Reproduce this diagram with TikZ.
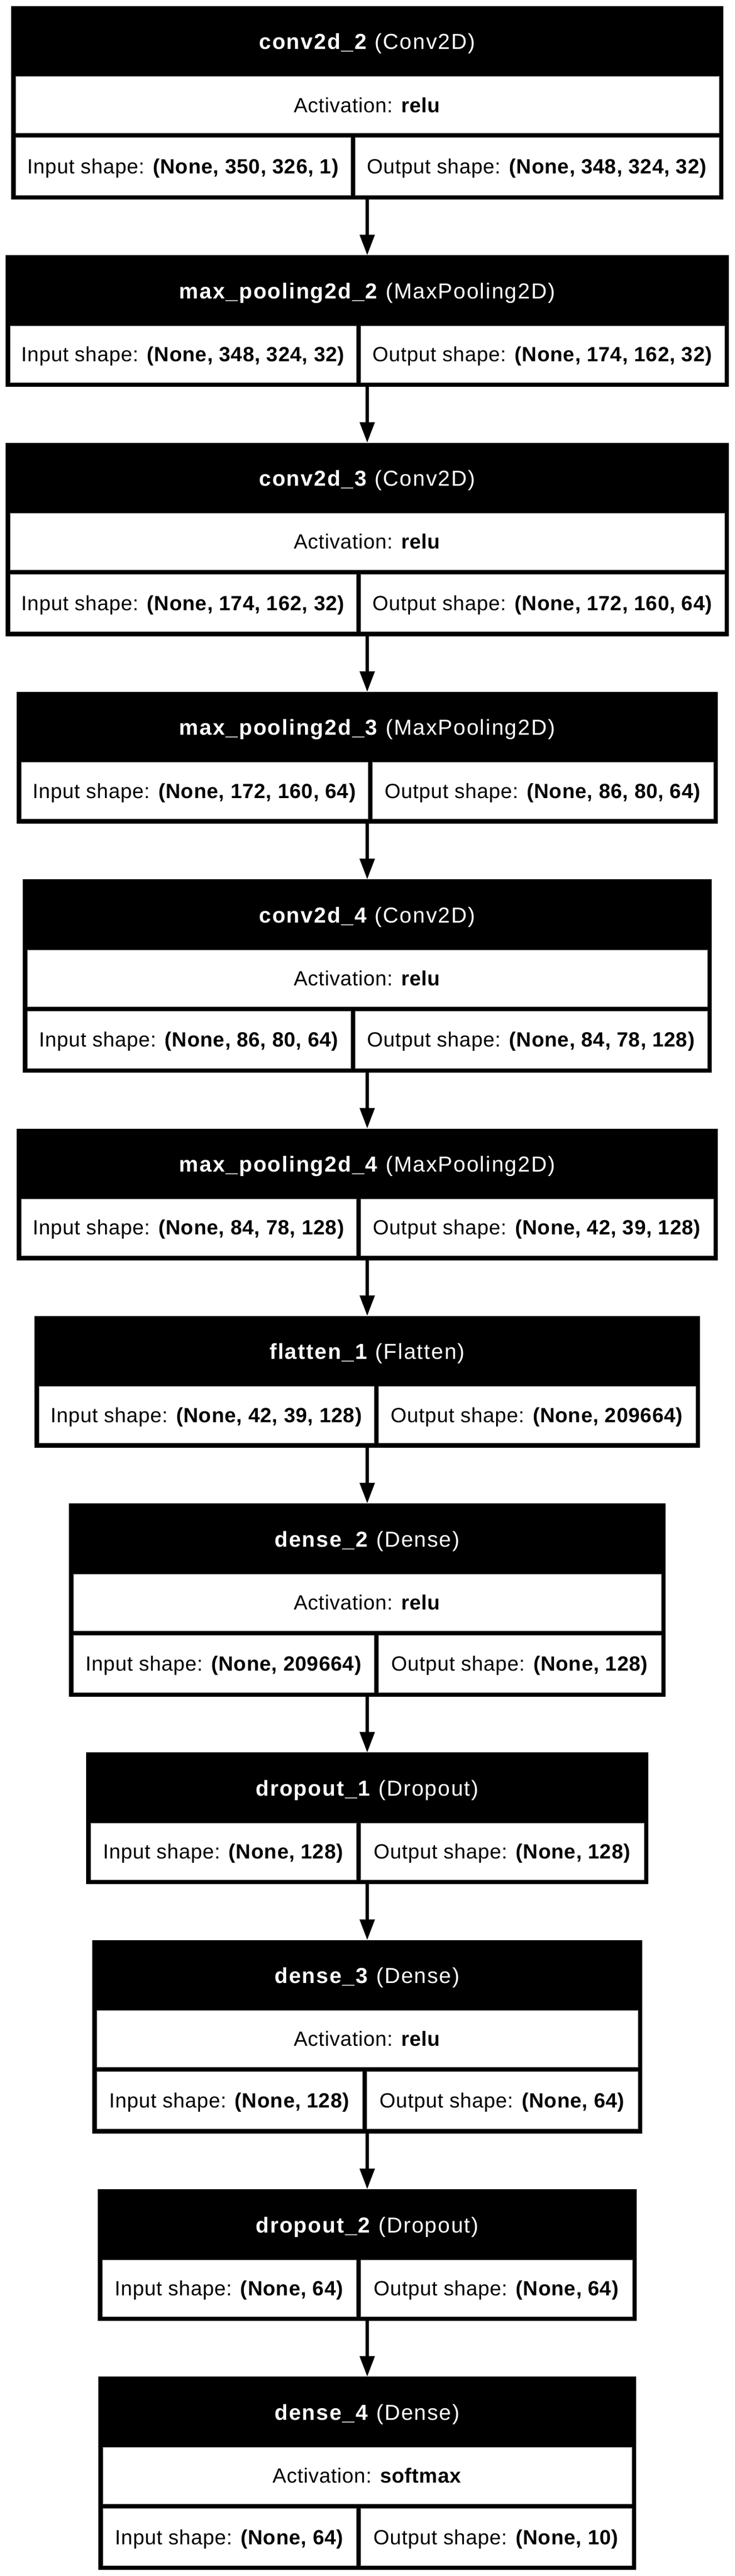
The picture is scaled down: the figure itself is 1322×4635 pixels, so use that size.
\documentclass[tikz,border=0pt]{standalone}
\usepackage{fontspec}
\setmainfont{Liberation Sans}
\newfontfamily\ttlfont{Liberation Sans}[LetterSpace=5]
\newfontfamily\cellfont{Liberation Sans}[LetterSpace=2]
\usetikzlibrary{arrows.meta}
\tikzset{
  boxfill/.style={fill=black, draw=none, inner sep=0pt, outer sep=0pt, anchor=north west},
  cell/.style={fill=white, draw=black!45, line width=0.5pt, inner sep=0pt, outer sep=0pt,
    anchor=north west, text height=13.2pt, text depth=0pt, font=\cellfont\fontsize{18.5pt}{21pt}\selectfont},
  ttl/.style={inner sep=0pt, outer sep=0pt, anchor=north west, text=white,
    text height=14pt, text depth=0pt, font=\ttlfont\fontsize{19.5pt}{23pt}\selectfont},
  arr/.style={line width=3pt, -{Triangle[length=18.5pt,width=13pt]}},
}
% box with activation row: name, top, left, split, name, class, activation, input, output
\newcommand{\abox}[9]{%
  \pgfmathsetmacro\bw{(1322-2*#3)*0.5}%
  \pgfmathsetmacro\cw{(1322-2*#3-16)*0.5}%
  \pgfmathsetmacro\iw{(#4-#3-8)*0.5}%
  \pgfmathsetmacro\ow{(1322-#3-8-#4-8)*0.5}%
  \node[boxfill, minimum width=\bw pt, minimum height=174pt] (#1) at (#3,#2) {};
  \node[ttl, minimum width=\cw pt, minimum height=59.5pt] (#1t) at (#3+8,#2+4.5) {\textbf{#5} #6};
  \node[cell, minimum width=\cw pt, minimum height=51pt] (#1a) at (#3+8,#2+127) {Activation: \textbf{#7}};
  \node[cell, minimum width=\iw pt, minimum height=51.5pt] (#1i) at (#3+8,#2+237) {Input shape: \textbf{#8}};
  \node[cell, minimum width=\ow pt, minimum height=51.5pt] (#1o) at (#4+8,#2+237) {Output shape: \textbf{#9}};
}
% box without activation row: name, top, left, split, name, class, input, output
\newcommand{\nbox}[8]{%
  \pgfmathsetmacro\bw{(1322-2*#3)*0.5}%
  \pgfmathsetmacro\cw{(1322-2*#3-16)*0.5}%
  \pgfmathsetmacro\iw{(#4-#3-8)*0.5}%
  \pgfmathsetmacro\ow{(1322-#3-8-#4-8)*0.5}%
  \node[boxfill, minimum width=\bw pt, minimum height=118.5pt] (#1) at (#3,#2) {};
  \node[ttl, minimum width=\cw pt, minimum height=59.5pt] (#1t) at (#3+8,#2+4.5) {\textbf{#5} #6};
  \node[cell, minimum width=\iw pt, minimum height=51pt] (#1i) at (#3+8,#2+127) {Input shape: \textbf{#7}};
  \node[cell, minimum width=\ow pt, minimum height=51pt] (#1o) at (#4+8,#2+127) {Output shape: \textbf{#8}};
}
\begin{document}
\begin{tikzpicture}[x=0.5pt, y=-0.5pt]
\useasboundingbox (0,0) rectangle (1322,4635);
\abox{b1}{11}{20}{631}{conv2d\_2}{(Conv2D)}{relu}{(None, 350, 326, 1)}{(None, 348, 324, 32)}
\nbox{b2}{459.3}{10}{641}{max\_pooling2d\_2}{(MaxPooling2D)}{(None, 348, 324, 32)}{(None, 174, 162, 32)}
\abox{b3}{796.6}{10}{641}{conv2d\_3}{(Conv2D)}{relu}{(None, 174, 162, 32)}{(None, 172, 160, 64)}
\nbox{b4}{1244.9}{30}{662}{max\_pooling2d\_3}{(MaxPooling2D)}{(None, 172, 160, 64)}{(None, 86, 80, 64)}
\abox{b5}{1582.2}{41}{631}{conv2d\_4}{(Conv2D)}{relu}{(None, 86, 80, 64)}{(None, 84, 78, 128)}
\nbox{b6}{2030.5}{30}{641}{max\_pooling2d\_4}{(MaxPooling2D)}{(None, 84, 78, 128)}{(None, 42, 39, 128)}
\nbox{b7}{2367.8}{62}{673}{flatten\_1}{(Flatten)}{(None, 42, 39, 128)}{(None, 209664)}
\abox{b8}{2705.1}{124}{673}{dense\_2}{(Dense)}{relu}{(None, 209664)}{(None, 128)}
\nbox{b9}{3153.4}{155}{641}{dropout\_1}{(Dropout)}{(None, 128)}{(None, 128)}
\abox{b10}{3490.7}{166}{652}{dense\_3}{(Dense)}{relu}{(None, 128)}{(None, 64)}
\nbox{b11}{3939}{176}{641}{dropout\_2}{(Dropout)}{(None, 64)}{(None, 64)}
\abox{b12}{4276.3}{177}{641}{dense\_4}{(Dense)}{softmax}{(None, 64)}{(None, 10)}
\foreach \a/\b in {b1/b2,b2/b3,b3/b4,b4/b5,b5/b6,b6/b7,b7/b8,b8/b9,b9/b10,b10/b11,b11/b12}
  \draw[arr] (\a.south) -- (\b.north);
\end{tikzpicture}
\end{document}
